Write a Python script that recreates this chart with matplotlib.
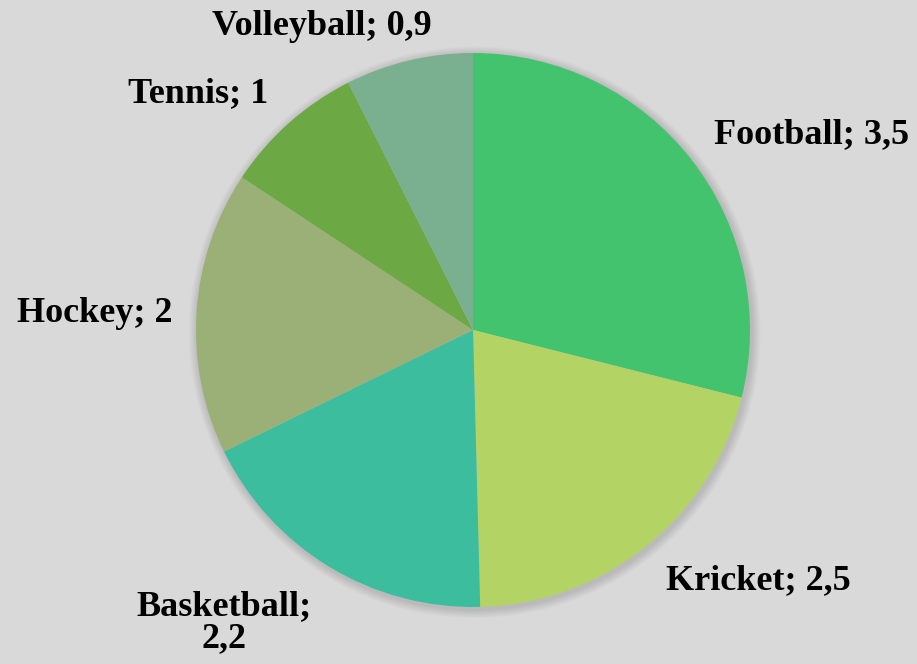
import matplotlib
matplotlib.use("Agg")
import matplotlib.pyplot as plt
from matplotlib.patches import Circle

categories = ["Football", "Kricket", "Basketball", "Hockey", "Tennis", "Volleyball"]
values = [3.5, 2.5, 2.2, 2, 1, 0.9]
value_labels = ["3,5", "2,5", "2,2", "2", "1", "0,9"]
colors = ["#43C36E", "#B3D465", "#3CBD9E", "#9AB076", "#6CA843", "#7AAF90"]

label_pos = {
    "Football": (1.224, 0.704),
    "Kricket": (1.032, -0.905),
    "Basketball": (-0.899, -1.056),
    "Hockey": (-1.365, 0.061),
    "Tennis": (-0.993, 0.855),
    "Volleyball": (-0.545, 1.094),
}

W, H = 917, 664
fig = plt.figure(figsize=(W / 100, H / 100), dpi=100)
bg = "#D9D9D9"
fig.patch.set_facecolor(bg)

cx, cy, r = 473, 330, 277
ax = fig.add_axes([(cx - r) / W, (H - cy - r) / H, 2 * r / W, 2 * r / H])
ax.set_xlim(-1, 1)
ax.set_ylim(-1, 1)
ax.set_aspect("equal")
ax.axis("off")
ax.set_facecolor("none")

# soft shadow
for i in range(8):
    ax.add_patch(Circle((0.006, -0.008), 1.0 + 0.004 * (8 - i), color="#000000",
                        alpha=0.014, lw=0, zorder=0, clip_on=False))

ax.pie(values, colors=colors, startangle=90, counterclock=False, radius=1.0,
       wedgeprops=dict(linewidth=0), center=(0, 0), frame=False)
ax.set_xlim(-1, 1)
ax.set_ylim(-1, 1)

for cat, vl in zip(categories, value_labels):
    x, y = label_pos[cat]
    txt = f"{cat}; {vl}" if cat != "Basketball" else f"{cat};\n{vl}"
    ax.text(x, y, txt, ha="center", va="center", fontsize=26, fontweight="bold",
            family="Liberation Serif", color="#000000", clip_on=False,
            linespacing=0.98)

fig.savefig("out.png", dpi=100, facecolor=bg)
